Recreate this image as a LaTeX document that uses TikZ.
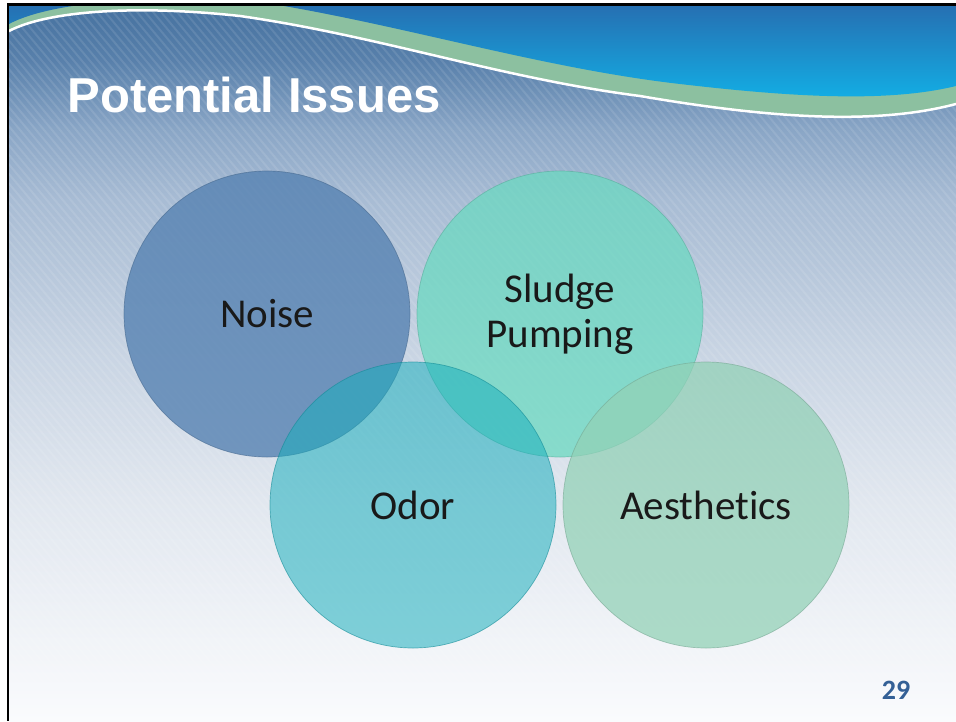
\documentclass[tikz,border=0pt]{standalone}
\usepackage{fontspec}
\setmainfont{Carlito}[Ligatures=NoCommon]
\newfontfamily\headfont{Liberation Sans}

\definecolor{bgA}{RGB}{70,114,160}
\definecolor{bgB}{RGB}{88,128,171}
\definecolor{bgC}{RGB}{138,166,198}
\definecolor{bgD}{RGB}{168,188,212}
\definecolor{bgE}{RGB}{200,212,227}
\definecolor{bgF}{RGB}{225,231,239}
\definecolor{bgG}{RGB}{250,251,253}
\definecolor{headtop}{RGB}{40,104,172}
\definecolor{headbot}{RGB}{18,176,230}
\definecolor{wavegreen}{RGB}{140,192,160}
\definecolor{noisefill}{RGB}{86,130,178}
\definecolor{sludgefill}{RGB}{107,217,193}
\definecolor{odorfill}{RGB}{23,174,188}
\definecolor{aestfill}{RGB}{146,209,182}
\definecolor{pagenum}{RGB}{52,96,150}

\pgfdeclareverticalshading{slidebg}{100bp}{color(0bp)=(bgG); color(25bp)=(bgG);
  color(40.5bp)=(bgF); color(50.9bp)=(bgE); color(61.4bp)=(bgD);
  color(66.3bp)=(bgC); color(71.2bp)=(bgB); color(75bp)=(bgA); color(100bp)=(bgA)}

\tikzset{
  issue/.style={circle, minimum size=286pt, inner sep=0pt, align=center,
    font=\fontsize{41}{45}\selectfont, text=black!90, text opacity=1,
    line width=0.7pt, draw opacity=0.6},
  stripe/.style={white, opacity=0.1, line width=2pt}
}

\begin{document}
\begin{tikzpicture}[x=1pt,y=-1pt]
    \useasboundingbox (0,0) rectangle (956,721);
    \fill[white] (0,0) rectangle (956,721);
    \begin{scope}
        \clip (9,6) rectangle (956,721);
        \shade[shading=slidebg] (9,6) rectangle (956,721);
        \foreach \x in {-700,-692,...,956}
            \draw[stripe] (\x,6) -- ++(600,715);
        % green band, then the blue header above it
        \fill[wavegreen] (9,31) .. controls (45,12) and (130,4) .. (240,16)
            .. controls (380,36) and (500,78) .. (640,96)
            .. controls (780,120) and (880,124) .. (956,104)
            -- (956,0) -- (9,0) -- cycle;
        \shade[top color=headtop, bottom color=headbot] (9,24) .. controls (50,2) and (150,-6) .. (260,2)
            .. controls (400,24) and (540,68) .. (680,84)
            .. controls (800,98) and (890,102) .. (956,86)
            -- (956,0) -- (9,0) -- cycle;
        \draw[white, line width=2.5pt] (9,31) .. controls (45,12) and (130,4) .. (240,16)
            .. controls (380,36) and (500,78) .. (640,96)
            .. controls (780,120) and (880,124) .. (956,104);
    \end{scope}
    \fill (7,3) rectangle (956,6);
    \fill (7,3) rectangle (9,721);

    \node[anchor=base west, text=white, font=\headfont\bfseries\fontsize{49}{50}\selectfont] (title) at (64,112) {Potential Issues};

    \node[issue, fill=noisefill, fill opacity=0.8, draw=noisefill!80!black] (noise) at (267,314) {Noise};
    \node[issue, fill=sludgefill, fill opacity=0.75, draw=sludgefill!80!black] (sludge) at (560,314) {Sludge\\Pumping};
    \node[issue, fill=odorfill, fill opacity=0.53, draw=odorfill!80!black] (odor) at (413,505) {Odor};
    \node[issue, fill=aestfill, fill opacity=0.73, draw=aestfill!80!black] (aesthetics) at (706,505) {Aesthetics};

    \node[text=pagenum, font=\bfseries\fontsize{28}{30}\selectfont] (page) at (896,690) {29};
\end{tikzpicture}
\end{document}
